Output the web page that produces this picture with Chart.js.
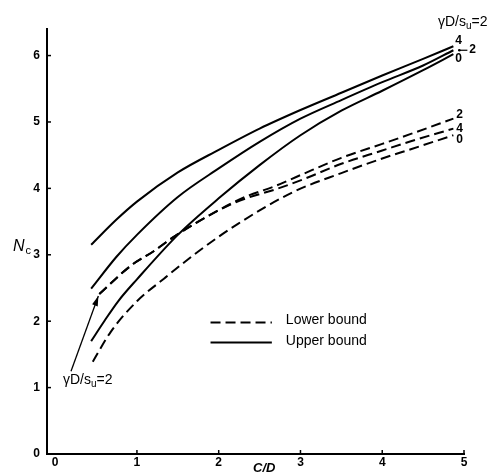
<!DOCTYPE html>
<html>
<head>
<meta charset="utf-8">
<script src="https://cdn.jsdelivr.net/npm/chart.js@4/dist/chart.umd.min.js"></script>
<style>
html,body{margin:0;padding:0;background:#fff;}
canvas{display:block;}
</style>
</head>
<body>
<canvas id="c" width="493" height="475"></canvas>
<script>
// ---- data (C/D vs Nc) ----
const xTicks = [0, 1, 2, 3, 4, 5];
const yTicks = [0, 1, 2, 3, 4, 5, 6];

const upper4X = [0.44, 0.75, 1.0, 1.5, 2.0, 2.5, 3.0, 3.5, 4.0, 4.5, 4.87];
const upper4Y = [3.15, 3.53, 3.80, 4.24, 4.58, 4.90, 5.18, 5.44, 5.70, 5.95, 6.14];

const upper2X = [0.44, 0.75, 1.0, 1.5, 2.0, 2.5, 3.0, 3.5, 4.0, 4.5, 4.87];
const upper2Y = [2.49, 2.97, 3.30, 3.87, 4.30, 4.70, 5.05, 5.33, 5.60, 5.85, 6.08];

const upper0X = [0.44, 0.60, 0.77, 1.0, 1.5, 2.0, 2.5, 3.0, 3.5, 4.0, 4.5, 4.87];
const upper0Y = [1.70, 2.00, 2.30, 2.63, 3.30, 3.85, 4.35, 4.80, 5.17, 5.47, 5.78, 6.02];

const lower2X = [0.54, 0.93, 1.2, 1.45, 1.75, 2.15, 2.36, 2.68, 3.0, 3.5, 4.0, 4.35, 4.87];
const lower2Y = [2.41, 2.84, 3.05, 3.27, 3.50, 3.77, 3.89, 4.03, 4.20, 4.46, 4.67, 4.82, 5.05];

const lower4X = [0.54, 0.93, 1.2, 1.45, 1.75, 2.15, 2.36, 2.68, 3.0, 3.5, 4.0, 4.35, 4.87];
const lower4Y = [2.41, 2.84, 3.05, 3.27, 3.50, 3.76, 3.86, 3.98, 4.12, 4.37, 4.57, 4.71, 4.90];

const lower0X = [0.46, 0.68, 1.0, 1.33, 1.75, 2.24, 2.92, 3.5, 4.0, 4.35, 4.87];
const lower0Y = [1.39, 1.84, 2.30, 2.64, 3.05, 3.47, 3.95, 4.23, 4.45, 4.59, 4.80];

const legendLabels = ['Lower bound', 'Upper bound'];
const paramLabel = 'γD/s';

// ---- helpers ----
function pts(xs, ys) { return xs.map((x, i) => ({x: x, y: ys[i]})); }
const DASH = [10, 5];
function ds(label, xs, ys, dashed) {
  return {
    label: label,
    data: pts(xs, ys),
    borderColor: '#000',
    borderWidth: 2,
    borderDash: dashed ? DASH : [],
    pointRadius: 0,
    fill: false,
    cubicInterpolationMode: 'monotone'
  };
}

const FONT = '"Liberation Sans", Arial, sans-serif';

function drawParam(ctx, x, y, size) {
  ctx.save();
  ctx.fillStyle = '#000';
  ctx.textBaseline = 'alphabetic';
  ctx.textAlign = 'left';
  ctx.font = size + 'px ' + FONT;
  ctx.fillText(paramLabel, x, y);
  let w = ctx.measureText(paramLabel).width;
  ctx.font = Math.round(size * 0.72) + 'px ' + FONT;
  ctx.fillText('u', x + w, y + 3);
  w += ctx.measureText('u').width;
  ctx.font = size + 'px ' + FONT;
  ctx.fillText('=2', x + w, y);
  ctx.restore();
}

const annot = {
  id: 'annot',
  afterDraw(chart) {
    const ctx = chart.ctx;
    const xs = chart.scales.x, ys = chart.scales.y;
    ctx.save();
    ctx.strokeStyle = '#000';
    ctx.fillStyle = '#000';

    // inside tick marks
    ctx.lineWidth = 1.5;
    const ax = xs.getPixelForValue(xs.min);
    const ay = ys.getPixelForValue(ys.min);
    xTicks.forEach(v => {
      if (v === 0) return;
      const px = xs.getPixelForValue(v);
      ctx.beginPath(); ctx.moveTo(px, ay); ctx.lineTo(px, ay - 4); ctx.stroke();
    });
    yTicks.forEach(v => {
      if (v === 0) return;
      const py = ys.getPixelForValue(v);
      ctx.beginPath(); ctx.moveTo(ax, py); ctx.lineTo(ax + 4, py); ctx.stroke();
    });

    // axis titles
    ctx.textBaseline = 'alphabetic';
    ctx.textAlign = 'left';
    ctx.font = 'italic 16px ' + FONT;
    const nx = 13, ny = ys.getPixelForValue(3.05);
    ctx.fillText('N', nx, ny);
    const nw = ctx.measureText('N').width;
    ctx.font = '11px ' + FONT;
    ctx.fillText('c', nx + nw + 1, ny + 3);

    ctx.font = 'italic bold 13px ' + FONT;
    ctx.fillText('C/D', xs.getPixelForValue(2.42), ay + 18);

    // legend
    const lx0 = xs.getPixelForValue(1.9), lx1 = xs.getPixelForValue(2.65);
    const ly0 = ys.getPixelForValue(1.98), ly1 = ys.getPixelForValue(1.68);
    ctx.lineWidth = 2;
    ctx.setLineDash(DASH);
    ctx.beginPath(); ctx.moveTo(lx0, ly0); ctx.lineTo(lx1, ly0); ctx.stroke();
    ctx.setLineDash([]);
    ctx.beginPath(); ctx.moveTo(lx0, ly1); ctx.lineTo(lx1, ly1); ctx.stroke();
    ctx.font = '14px ' + FONT;
    ctx.textBaseline = 'middle';
    ctx.fillText(legendLabels[0], lx1 + 14, ly0 - 2);
    ctx.fillText(legendLabels[1], lx1 + 14, ly1 - 1);

    // end labels
    ctx.font = 'bold 12px ' + FONT;
    ctx.textAlign = 'left';
    const ex = xs.getPixelForValue(upper4X[upper4X.length - 1]) + 2;
    const u4 = ys.getPixelForValue(upper4Y[upper4Y.length - 1]);
    const u2 = ys.getPixelForValue(upper2Y[upper2Y.length - 1]);
    const u0 = ys.getPixelForValue(upper0Y[upper0Y.length - 1]);
    ctx.fillText('4', ex, u4 - 6);
    ctx.fillText('0', ex, u0 + 4);
    ctx.lineWidth = 1.2;
    ctx.beginPath(); ctx.moveTo(ex + 3, u2); ctx.lineTo(ex + 12, u2); ctx.stroke();
    ctx.beginPath(); ctx.arc(ex + 4, u2, 1.3, 0, Math.PI * 2); ctx.fill();
    ctx.fillText('2', ex + 14, u2 - 1);

    const l2 = ys.getPixelForValue(lower2Y[lower2Y.length - 1]);
    const l4 = ys.getPixelForValue(lower4Y[lower4Y.length - 1]);
    const l0 = ys.getPixelForValue(lower0Y[lower0Y.length - 1]);
    ctx.fillText('2', ex + 1, l2 - 4);
    ctx.fillText('4', ex + 1, l4 + 0);
    ctx.fillText('0', ex + 1, l0 + 4);

    // parameter labels
    drawParam(ctx, 438, 26, 14);
    const tx = 63, ty = ys.getPixelForValue(1.05);
    drawParam(ctx, tx, ty, 14);

    // arrow to the gamma=2 lower-bound curve
    const tipX = xs.getPixelForValue(lower2X[0]) - 1;
    const tipY = ys.getPixelForValue(lower2Y[0]) + 2;
    const sx = tx + 8, sy = ty - 13;
    ctx.lineWidth = 1.3;
    ctx.beginPath(); ctx.moveTo(sx, sy); ctx.lineTo(tipX, tipY); ctx.stroke();
    const ang = Math.atan2(tipY - sy, tipX - sx);
    const L = 10, W = 3;
    ctx.beginPath();
    ctx.moveTo(tipX, tipY);
    ctx.lineTo(tipX - L * Math.cos(ang) + W * Math.sin(ang), tipY - L * Math.sin(ang) - W * Math.cos(ang));
    ctx.lineTo(tipX - L * Math.cos(ang) - W * Math.sin(ang), tipY - L * Math.sin(ang) + W * Math.cos(ang));
    ctx.closePath(); ctx.fill();

    ctx.restore();
  }
};

new Chart(document.getElementById('c'), {
  type: 'line',
  data: {
    datasets: [
      ds('Upper bound γD/su=4', upper4X, upper4Y, false),
      ds('Upper bound γD/su=2', upper2X, upper2Y, false),
      ds('Upper bound γD/su=0', upper0X, upper0Y, false),
      ds('Lower bound γD/su=2', lower2X, lower2Y, true),
      ds('Lower bound γD/su=4', lower4X, lower4Y, true),
      ds('Lower bound γD/su=0', lower0X, lower0Y, true)
    ]
  },
  options: {
    responsive: false,
    devicePixelRatio: 1,
    animation: false,
    layout: { padding: { left: 0, top: 29, right: 29, bottom: 0 } },
    plugins: { legend: { display: false }, tooltip: { enabled: false } },
    scales: {
      x: {
        type: 'linear',
        min: -0.1,
        max: 5,
        afterBuildTicks(s) { s.ticks = xTicks.map(v => ({value: v})); },
        afterFit(s) { s.height = 21; },
        grid: { display: false, drawTicks: false },
        border: { display: true, color: '#000', width: 2 },
        ticks: { color: '#000', padding: 1, font: { family: FONT, size: 12, weight: 'bold' } }
      },
      y: {
        type: 'linear',
        min: 0,
        max: 6.4,
        afterBuildTicks(s) { s.ticks = yTicks.map(v => ({value: v})); },
        afterFit(s) { s.width = 47; },
        grid: { display: false, drawTicks: false },
        border: { display: true, color: '#000', width: 2 },
        ticks: { color: '#000', padding: 7, font: { family: FONT, size: 12, weight: 'bold' } }
      }
    }
  },
  plugins: [annot]
});
</script>
</body>
</html>
